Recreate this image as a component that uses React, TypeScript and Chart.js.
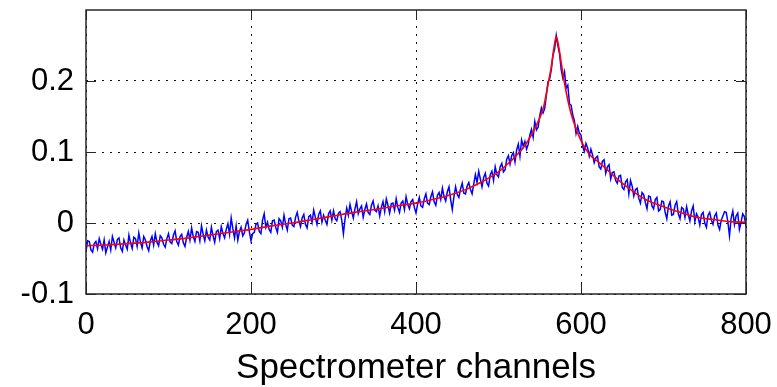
import React, { useEffect, useRef } from "react";
import { Chart, registerables } from "chart.js";

Chart.register(...registerables);

// Measured spectrum (blue). Samples at channels 0, 4, 8, ... 800
const measuredAt4 = [
  -0.040, -0.026, -0.041, -0.026, -0.022, -0.037, -0.042, -0.026, -0.019, -0.035, -0.021, -0.040, -0.031, -0.017, -0.036, -0.022, -0.014, -0.035, -0.024, -0.039, -0.019, -0.015, -0.032, -0.021, -0.034,
  -0.015, -0.029, -0.011, -0.031, -0.016, -0.033, -0.012, -0.007, -0.026, -0.013, -0.004, -0.025, -0.020, -0.006, -0.027, -0.010, -0.005, -0.021, -0.001, 0.007, -0.021, -0.024, -0.006, -0.014, 0.004,
  -0.025, -0.013, 0.000, -0.015, 0.013, 0.001, -0.013, 0.004, -0.013, 0.003, 0.011, -0.010, 0.007, -0.005, 0.015, -0.005, 0.012, -0.007, 0.011, 0.018, -0.002, 0.017, 0.011, -0.002, 0.017,
  0.017, 0.003, 0.016, -0.015, 0.021, 0.026, 0.007, 0.030, 0.020, 0.008, 0.027, 0.012, 0.031, 0.016, 0.010, 0.030, 0.034, 0.014, 0.028, 0.034, 0.015, 0.031, 0.037, 0.020, 0.033,
  0.014, 0.036, 0.022, 0.041, 0.026, 0.044, 0.025, 0.043, 0.049, 0.031, 0.051, 0.019, 0.051, 0.036, 0.056, 0.041, 0.057, 0.041, 0.068, 0.073, 0.051, 0.070, 0.052, 0.073, 0.079,
  0.065, 0.084, 0.075, 0.095, 0.095, 0.086, 0.111, 0.117, 0.115, 0.111, 0.132, 0.143, 0.135, 0.162, 0.161, 0.199, 0.216, 0.245, 0.250, 0.216, 0.213, 0.194, 0.166, 0.144, 0.136,
  0.124, 0.101, 0.106, 0.104, 0.085, 0.094, 0.076, 0.089, 0.079, 0.062, 0.072, 0.056, 0.067, 0.047, 0.061, 0.060, 0.038, 0.049, 0.028, 0.040, 0.020, 0.037, 0.020, 0.036, 0.019,
  0.030, 0.006, 0.030, 0.012, 0.030, 0.006, 0.020, 0.023, 0.003, 0.024, 0.013, -0.003, 0.015, -0.006, 0.015, -0.002, 0.014, -0.009, 0.010, 0.015, -0.018, 0.017, 0.010, -0.009, 0.013, -0.005,
];
// Samples at channels 2, 6, 10, ... 798
const measuredBetween = [
  -0.025, -0.038, -0.029, -0.036, -0.030, -0.024, -0.034, -0.038, -0.027, -0.023, -0.035, -0.024, -0.037, -0.028, -0.020, -0.033, -0.027, -0.019, -0.033, -0.025, -0.031, -0.027, -0.018, -0.030, -0.022,
  -0.027, -0.017, -0.026, -0.019, -0.028, -0.020, -0.024, -0.019, -0.012, -0.025, -0.016, -0.010, -0.024, -0.018, -0.012, -0.022, -0.015, -0.009, -0.016, -0.008, -0.004, -0.012, -0.018, -0.002, -0.012,
  -0.015, -0.002, -0.012, 0.004, -0.006, -0.009, 0.003, -0.006, 0.006, -0.006, -0.002, 0.006, -0.003, 0.008, 0.003, 0.007, -0.002, 0.009, 0.001, 0.008, 0.012, 0.001, 0.004, 0.013, 0.004,
  0.006, 0.014, 0.004, 0.006, 0.011, 0.016, 0.020, 0.013, 0.024, 0.019, 0.015, 0.025, 0.018, 0.024, 0.022, 0.016, 0.025, 0.027, 0.018, 0.022, 0.028, 0.019, 0.026, 0.030, 0.022,
  0.027, 0.024, 0.034, 0.028, 0.037, 0.030, 0.039, 0.033, 0.037, 0.044, 0.033, 0.037, 0.040, 0.048, 0.042, 0.052, 0.047, 0.055, 0.057, 0.062, 0.064, 0.056, 0.068, 0.060, 0.068,
  0.079, 0.072, 0.090, 0.083, 0.099, 0.103, 0.094, 0.108, 0.104, 0.124, 0.121, 0.131, 0.151, 0.155, 0.180, 0.203, 0.236, 0.264, 0.238, 0.204, 0.190, 0.168, 0.152, 0.126, 0.127,
  0.108, 0.112, 0.094, 0.096, 0.092, 0.079, 0.087, 0.070, 0.082, 0.071, 0.060, 0.066, 0.050, 0.058, 0.041, 0.052, 0.047, 0.035, 0.043, 0.029, 0.038, 0.024, 0.033, 0.017, 0.031,
  0.015, 0.024, 0.011, 0.025, 0.013, 0.022, 0.008, 0.012, 0.017, 0.002, 0.008, 0.012, 0.000, 0.011, 0.004, 0.010, -0.003, 0.004, 0.016, 0.002, 0.007, -0.002, 0.014, 0.001, 0.009,
];
const measuredStep = 4;
const measuredOffset = 2;

// Fitted curve (red)
const fitChannels = [
  0, 25, 50, 75, 100, 125, 150, 175, 200, 225, 250, 275, 300, 325, 350, 375, 400, 420, 440, 460, 480, 500, 510, 520, 530, 540, 550, 555, 560, 564, 567, 570, 573, 576, 580, 585, 590, 600, 610, 620, 630, 640, 650, 660, 670, 680, 700, 720, 740, 760, 780, 800,
];
const fitValues = [
  -0.032, -0.031, -0.029, -0.027, -0.024, -0.021, -0.017, -0.013, -0.009, -0.004, 0.0, 0.005, 0.01, 0.015, 0.019, 0.024, 0.028, 0.033, 0.039, 0.047, 0.058, 0.072, 0.082, 0.093, 0.106, 0.124, 0.148, 0.165, 0.195, 0.22, 0.245, 0.2625, 0.248, 0.226, 0.197, 0.168, 0.146, 0.116, 0.097, 0.087, 0.077, 0.066, 0.056, 0.047, 0.039, 0.032, 0.023, 0.015, 0.008, 0.005, 0.002, 0.001,
];

const xTickValues = [0, 200, 400, 600, 800];
const yTickValues = [-0.1, 0, 0.1, 0.2];
const xRange = [0, 800];
const yRange = [-0.1, 0.3];
const xTitle = "Spectrometer channels";

const FONT = "'Liberation Sans', Arial, sans-serif";

const matlabFrame = {
  id: "matlabFrame",
  afterDatasetsDraw(chart: any) {
    const { ctx, chartArea, scales } = chart;
    const { left, right, top, bottom } = chartArea;
    const len = 10;
    ctx.save();
    ctx.strokeStyle = "#262626";
    ctx.lineWidth = 1;
    ctx.setLineDash([]);
    ctx.beginPath();
    for (const t of scales.x.ticks) {
      const px = Math.round(scales.x.getPixelForValue(t.value)) + 0.5;
      ctx.moveTo(px, bottom);
      ctx.lineTo(px, bottom - len);
      ctx.moveTo(px, top);
      ctx.lineTo(px, top + len);
    }
    for (const t of scales.y.ticks) {
      const py = Math.round(scales.y.getPixelForValue(t.value)) + 0.5;
      ctx.moveTo(left, py);
      ctx.lineTo(left + len, py);
      ctx.moveTo(right, py);
      ctx.lineTo(right - len, py);
    }
    ctx.stroke();
    ctx.lineWidth = 1.5;
    ctx.strokeStyle = "#262626";
    ctx.strokeRect(left, top, right - left, bottom - top);
    ctx.restore();
  },
};

export default function App() {
  const ref = useRef<HTMLCanvasElement | null>(null);

  useEffect(() => {
    if (!ref.current) return;
    const measured: { x: number; y: number }[] = [];
    measuredAt4.forEach((v, i) => {
      measured.push({ x: i * measuredStep, y: v });
      if (i < measuredBetween.length) {
        measured.push({ x: i * measuredStep + measuredOffset, y: measuredBetween[i] });
      }
    });
    const fit = fitChannels.map((c, i) => ({ x: c, y: fitValues[i] }));
    const chart = new Chart(ref.current, {
      type: "line",
      data: {
        datasets: [
          {
            label: "fit",
            data: fit,
            borderColor: "#ff0000",
            borderWidth: 1.6,
            pointRadius: 0,
            cubicInterpolationMode: "monotone",
            order: 0,
          },
          {
            label: "measured",
            data: measured,
            borderColor: "#0000ff",
            borderWidth: 1.5,
            pointRadius: 0,
            tension: 0,
            order: 1,
          },
        ],
      },
      plugins: [matlabFrame],
      options: {
        animation: false,
        responsive: false,
        maintainAspectRatio: false,
        events: [],
        layout: { padding: { top: 10, right: 31, left: 0, bottom: 0 } },
        plugins: {
          legend: { display: false },
          tooltip: { enabled: false },
          title: { display: false },
        },
        scales: {
          x: {
            type: "linear",
            min: xRange[0],
            max: xRange[1],
            afterBuildTicks: (s: any) => {
              s.ticks = xTickValues.map((v) => ({ value: v }));
            },
            afterFit: (s: any) => {
              s.height = 93;
              s.paddingLeft = 0;
              s.paddingRight = 0;
            },
            grid: {
              drawTicks: false,
              color: "#111111",
              lineWidth: 1,
            },
            border: { display: false, dash: [2, 6] },
            ticks: {
              color: "#000000",
              font: { family: FONT, size: 31 },
              padding: 13,
              maxRotation: 0,
              autoSkip: false,
              callback: (v: any) => String(v),
            },
            title: {
              display: true,
              text: xTitle,
              color: "#000000",
              font: { family: FONT, size: 35 },
              padding: { top: 0, bottom: -2 },
            },
          },
          y: {
            type: "linear",
            min: yRange[0],
            max: yRange[1],
            afterBuildTicks: (s: any) => {
              s.ticks = yTickValues.map((v) => ({ value: v }));
            },
            afterFit: (s: any) => {
              s.width = 86;
              s.paddingTop = 0;
              s.paddingBottom = 0;
            },
            grid: {
              drawTicks: false,
              color: "#111111",
              lineWidth: 1,
            },
            border: { display: false, dash: [2, 6] },
            ticks: {
              color: "#000000",
              font: { family: FONT, size: 31 },
              padding: 12,
              autoSkip: false,
              callback: (v: any) => String(Math.round(v * 10) / 10),
            },
          },
        },
      },
    });
    return () => chart.destroy();
  }, []);

  return (
    <div style={{ position: "fixed", left: 0, top: 0, width: 777, height: 387, background: "#fff" }}>
      <canvas ref={ref} width={777} height={387} style={{ width: 777, height: 387 }} />
    </div>
  );
}
